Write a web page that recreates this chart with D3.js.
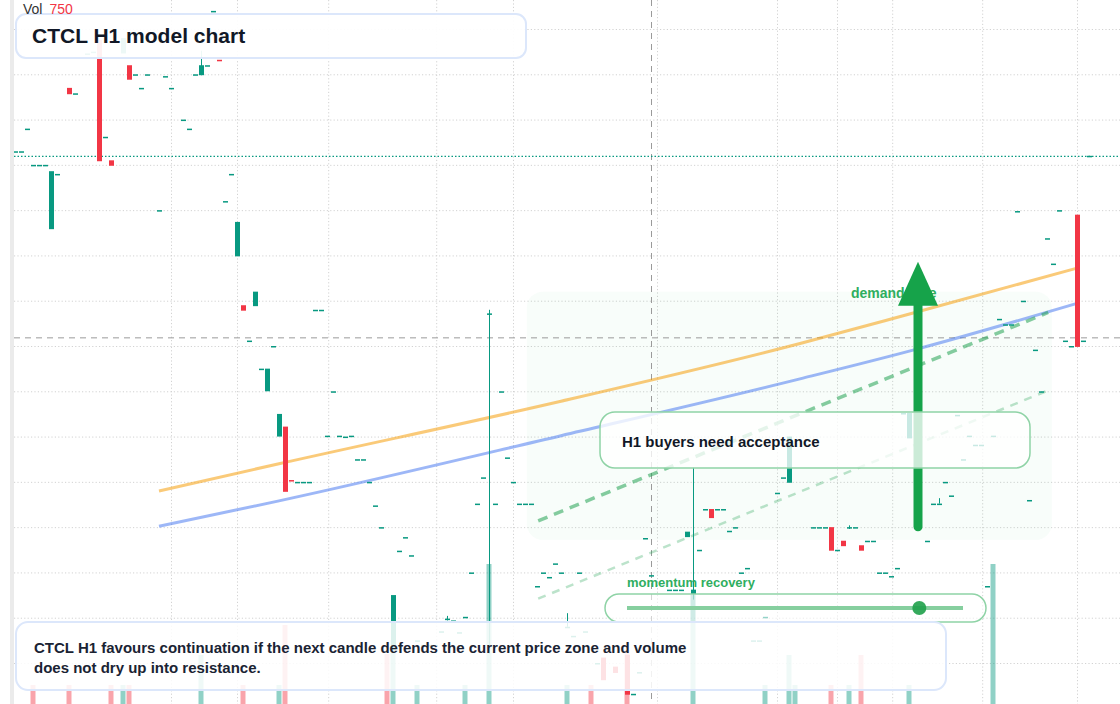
<!DOCTYPE html>
<html>
<head>
<meta charset="utf-8">
<style>
  html, body { margin: 0; padding: 0; background: #fff; }
  svg { display: block; font-family: "Liberation Sans", Arial, sans-serif; }
</style>
<script src="https://cdn.jsdelivr.net/npm/d3@7"></script>
</head>
<body>
<svg id="chart"></svg>
<script>
// bars: [index, open, high, low, close] or [index, price] for flat bars
const candles = [
  [0, 23.15], [1, 23.15], [2, 23.40], [3, 23.00], [4, 23.00], [5, 23.00],
  [6, 22.29, 22.93, 22.29, 22.93], [7, 22.90],
  [9, 23.85, 23.85, 23.78, 23.78], [10, 23.79], [12, 24.23], [13, 24.25],
  [14, 24.38, 24.38, 23.04, 23.04], [15, 23.31],
  [16, 23.05, 23.05, 22.99, 22.99],
  [18, 24.23, 24.40, 24.23, 24.40],
  [19, 24.10, 24.10, 23.94, 23.94],
  [20, 24.00], [21, 23.85], [22, 24.00], [24, 22.50], [25, 23.98], [26, 23.85],
  [28, 23.50], [29, 23.40], [30, 24.00],
  [31, 23.99, 24.26, 23.99, 24.10], [32, 24.10], [33, 24.70],
  [34, 24.16, 24.16, 24.15, 24.15], [35, 22.60], [36, 22.90],
  [37, 21.99, 22.37, 21.99, 22.37],
  [38, 21.45, 21.45, 21.39, 21.39], [39, 21.06],
  [40, 21.44, 21.60, 21.44, 21.60], [41, 20.75],
  [42, 20.50, 20.75, 20.50, 20.75], [43, 21.00],
  [44, 20.00, 20.25, 20.00, 20.25],
  [45, 20.11, 20.11, 19.39, 19.39],
  [46, 19.52, 19.52, 19.51, 19.51],
  [47, 19.50], [48, 19.50], [49, 19.50], [50, 21.40], [51, 21.40], [52, 20.01],
  [53, 20.50], [54, 20.01], [55, 20.00], [56, 20.01], [57, 19.75], [58, 19.75],
  [59, 19.50], [60, 19.24], [61, 19.00],
  [63, 17.64, 18.25, 17.64, 18.25],
  [64, 18.74], [65, 18.89], [66, 18.69], [67, 17.75], [68, 17.70], [69, 17.70],
  [70, 17.70], [71, 17.85],
  [72, 17.99, 18.02, 17.97, 17.99], [73, 17.97], [74, 17.84], [75, 18.01],
  [76, 18.50], [77, 19.26], [78, 19.55],
  [79, 21.36, 21.40, 17.60, 21.36],
  [80, 19.26], [81, 20.50], [82, 19.77], [83, 19.50], [84, 19.26], [85, 19.26],
  [86, 19.26], [87, 18.35], [88, 18.50], [89, 18.45], [90, 18.60], [91, 18.50],
  [92, 17.90, 18.05, 17.90, 17.90], [93, 17.80], [94, 18.50], [95, 17.85], [97, 17.50],
  [98, 17.56, 17.56, 17.31, 17.31],
  [100, 17.46, 17.46, 17.39, 17.39],
  [102, 17.59, 17.59, 17.15, 17.15], [103, 17.16], [104, 17.40],
  [105, 18.88], [106, 18.47], [109, 18.31], [110, 18.31], [111, 18.31],
  [112, 18.89, 18.95, 18.89, 18.95],
  [113, 18.26, 19.66, 18.20, 18.31],
  [114, 18.75], [115, 19.20],
  [116, 19.20, 19.20, 19.10, 19.10],
  [117, 19.20], [118, 19.20], [119, 18.96], [120, 19.00], [121, 18.50], [122, 18.55],
  [123, 17.75], [124, 17.75], [125, 18.01], [127, 19.38], [128, 19.55],
  [129, 19.49, 20.00, 19.49, 20.00],
  [133, 19.00], [134, 19.00], [135, 19.00],
  [136, 19.00, 19.00, 18.74, 18.74], [137, 18.75],
  [138, 18.85, 18.85, 18.79, 18.79],
  [139, 19.00, 19.02, 18.98, 19.00], [140, 19.00],
  [141, 18.80, 18.80, 18.74, 18.74],
  [142, 18.85], [143, 18.85], [144, 18.50], [145, 18.50], [146, 18.46], [147, 18.55],
  [148, 20.26], [149, 19.98, 20.26, 19.98, 20.26],
  [152, 18.85], [153, 19.26], [154, 19.26, 19.32, 19.26, 19.26],
  [155, 19.50], [156, 19.35], [157, 20.24], [158, 19.75], [159, 20.01], [160, 19.91],
  [161, 19.91], [162, 18.35], [163, 20.01], [164, 21.30], [165, 21.24], [166, 21.24],
  [167, 22.49], [168, 21.50], [169, 19.30], [170, 20.96], [171, 20.50], [172, 22.19],
  [173, 21.91], [174, 22.50], [175, 21.06], [176, 21.00],
  [177, 22.45, 22.45, 20.99, 20.99],
  [178, 21.06], [179, 23.10],
];

const volIdx = [3, 9, 16, 18, 19, 31, 38, 44, 45, 62, 63, 67, 75, 79, 92, 96, 102, 113, 125, 129, 130, 136, 139, 141, 149, 163];
const volume = [135, 135, 135, 135, 135, 285, 135, 135, 435, 290, 360, 135, 135, 740, 135, 135, 310, 585, 135, 285, 135, 135, 135, 285, 135, 740];
const volUp = [0, 0, 0, 1, 0, 1, 0, 1, 0, 0, 1, 1, 1, 1, 1, 0, 0, 1, 1, 1, 1, 0, 1, 0, 1, 1];

const fastIdx = [24, 44, 91, 131, 150, 177];
const fastLine = [19.40, 19.70, 20.39, 21.03, 21.37, 21.86];
const slowIdx = [24, 44, 91, 131, 150, 177];
const slowLine = [19.01, 19.29, 20.01, 20.64, 20.96, 21.47];

const channelIdx = [87.2, 172.2];
const channelUpper = [19.07, 21.37];
const channelLower = [18.21, 20.51];

const zoneIdx = [85.3, 172.8];
const zonePrice = [18.86, 21.60];

const priceTicks = [17.5, 18, 18.5, 19, 19.5, 20, 20.5, 21, 21.5, 22, 22.5, 23, 23.5, 24, 24.5];
const timeTicks = [26, 37, 52.2, 70.2, 83, 107, 127, 137, 146.2, 161.2, 177];

const crossIdx = 106;
const crossPrice = 21.09;
const arrowIdx = 150.5;
const arrowFrom = 18.96;
const arrowTo = 21.93;
const momentum = 0.87;
const volLabel = 750;

const W = 1120, H = 704;
const UP = "#089981", DOWN = "#f23645";

const x = d3.scaleLinear().domain([0, 179]).range([15, 1089]);
const y = d3.scaleLinear().domain([17.5, 24.5]).range([663, 29]);
const yVol = d3.scaleLinear().domain([0, 750]).range([712, 562]);

const svg = d3.select("#chart").attr("width", W).attr("height", H).attr("viewBox", [0, 0, W, H]);

svg.append("defs").append("clipPath").attr("id", "plot")
  .append("rect").attr("x", 14).attr("y", 0).attr("width", W - 14).attr("height", H);

svg.append("rect").attr("x", 10).attr("y", 0).attr("width", 4).attr("height", H).attr("fill", "#ebebeb");

const plot = svg.append("g").attr("clip-path", "url(#plot)");

// grid
plot.append("g")
  .attr("transform", "translate(14,0)")
  .call(d3.axisRight(y).tickValues(priceTicks).tickSize(W - 14).tickFormat(""))
  .call((g) => g.select(".domain").remove())
  .call((g) => g.selectAll(".tick line").attr("stroke", "#d2d2d2").attr("stroke-dasharray", "1.2,2.2"));

plot.append("g")
  .call(d3.axisBottom(x).tickValues(timeTicks).tickSize(H).tickFormat(""))
  .call((g) => g.select(".domain").remove())
  .call((g) => g.selectAll(".tick line").attr("stroke", "#d2d2d2").attr("stroke-dasharray", "1.2,2.2"));

// demand zone
plot.append("rect")
  .attr("x", x(zoneIdx[0])).attr("y", y(zonePrice[1]))
  .attr("width", x(zoneIdx[1]) - x(zoneIdx[0]))
  .attr("height", y(zonePrice[0]) - y(zonePrice[1]))
  .attr("rx", 16)
  .attr("fill", "#22c55e").attr("fill-opacity", 0.032);

// volume
plot.append("g").selectAll("rect")
  .data(volIdx)
  .join("rect")
  .attr("x", (d) => x(d) - 2.5)
  .attr("width", 5)
  .attr("y", (d, i) => yVol(volume[i]))
  .attr("height", (d, i) => yVol(0) - yVol(volume[i]))
  .attr("fill", (d, i) => (volUp[i] ? UP : DOWN))
  .attr("fill-opacity", 0.45);

// crosshair
plot.append("line")
  .attr("x1", 14).attr("x2", W).attr("y1", y(crossPrice)).attr("y2", y(crossPrice))
  .attr("stroke", "#9a9a9a").attr("stroke-dasharray", "6,5");
plot.append("line")
  .attr("x1", x(crossIdx) + 0.5).attr("x2", x(crossIdx) + 0.5).attr("y1", 0).attr("y2", H)
  .attr("stroke", "#9a9a9a").attr("stroke-dasharray", "6,5");

// last price line
const last = candles[candles.length - 1];
plot.append("line")
  .attr("x1", 14).attr("x2", W)
  .attr("y1", y(last[last.length - 1]) + 0.5).attr("y2", y(last[last.length - 1]) + 0.5)
  .attr("stroke", UP).attr("stroke-width", 1.2).attr("stroke-dasharray", "1.5,2");

// averages
const avg = d3.line().x((d) => x(d[0])).y((d) => y(d[1])).curve(d3.curveMonotoneX);
plot.append("path")
  .attr("d", avg(d3.zip(fastIdx, fastLine)))
  .attr("fill", "none").attr("stroke", "#f59e0b").attr("stroke-opacity", 0.55).attr("stroke-width", 3);
plot.append("path")
  .attr("d", avg(d3.zip(slowIdx, slowLine)))
  .attr("fill", "none").attr("stroke", "#3b6ff0").attr("stroke-opacity", 0.5).attr("stroke-width", 3);

// channel
const straight = d3.line().x((d) => x(d[0])).y((d) => y(d[1]));
plot.append("path")
  .attr("d", straight(d3.zip(channelIdx, channelUpper)))
  .attr("fill", "none").attr("stroke", "#22a352").attr("stroke-opacity", 0.55)
  .attr("stroke-width", 3.5).attr("stroke-dasharray", "10,7");
plot.append("path")
  .attr("d", straight(d3.zip(channelIdx, channelLower)))
  .attr("fill", "none").attr("stroke", "#22a352").attr("stroke-opacity", 0.3)
  .attr("stroke-width", 2.5).attr("stroke-dasharray", "8,7");

// candles
const bars = candles.map((c) =>
  c.length === 2
    ? { i: c[0], o: c[1], h: c[1], l: c[1], c: c[1] }
    : { i: c[0], o: c[1], h: c[2], l: c[3], c: c[4] }
);
const candleG = plot.append("g");
candleG.selectAll("line")
  .data(bars.filter((d) => d.h > Math.max(d.o, d.c) || d.l < Math.min(d.o, d.c)))
  .join("line")
  .attr("x1", (d) => Math.round(x(d.i)) + 0.5)
  .attr("x2", (d) => Math.round(x(d.i)) + 0.5)
  .attr("y1", (d) => y(d.h))
  .attr("y2", (d) => y(d.l))
  .attr("stroke", (d) => (d.c >= d.o ? UP : DOWN));
candleG.selectAll("rect")
  .data(bars)
  .join("rect")
  .attr("x", (d) => Math.round(x(d.i)) - 2)
  .attr("width", 5)
  .attr("y", (d) => y(Math.max(d.o, d.c)))
  .attr("height", (d) => Math.max(1.5, Math.abs(y(d.o) - y(d.c))))
  .attr("fill", (d) => (d.c >= d.o ? UP : DOWN));

// demand side label + arrow
svg.append("text")
  .attr("x", 851).attr("y", 298)
  .attr("font-size", 14).attr("font-weight", 700).attr("fill", "#2fae5f")
  .text("demand side");

const ax = x(arrowIdx);
svg.append("line")
  .attr("x1", ax).attr("x2", ax).attr("y1", y(arrowFrom) - 4).attr("y2", y(arrowTo) + 40)
  .attr("stroke", "#16a34a").attr("stroke-width", 9).attr("stroke-linecap", "round");
svg.append("path")
  .attr("d", `M${ax},${y(arrowTo)} L${ax + 20},${y(arrowTo) + 44} L${ax - 20},${y(arrowTo) + 44} Z`)
  .attr("fill", "#16a34a");

// note box
svg.append("rect")
  .attr("x", 600).attr("y", 412).attr("width", 430).attr("height", 56).attr("rx", 15)
  .attr("fill", "#fff").attr("fill-opacity", 0.78)
  .attr("stroke", "#8fd3a6").attr("stroke-width", 1.5);
svg.append("text")
  .attr("x", 622).attr("y", 447)
  .attr("font-size", 15).attr("font-weight", 700).attr("fill", "#111827")
  .text("H1 buyers need acceptance");

// momentum slider
svg.append("text")
  .attr("x", 627).attr("y", 587)
  .attr("font-size", 13).attr("font-weight", 700).attr("fill", "#2fae5f")
  .text("momentum recovery");
svg.append("rect")
  .attr("x", 605).attr("y", 594).attr("width", 381).attr("height", 28).attr("rx", 14)
  .attr("fill", "#fff").attr("fill-opacity", 0.57)
  .attr("stroke", "#8fd3a6").attr("stroke-width", 1.5);
const track = d3.scaleLinear().domain([0, 1]).range([627, 963]);
svg.append("line")
  .attr("x1", track(0)).attr("x2", track(1)).attr("y1", 608).attr("y2", 608)
  .attr("stroke", "#86cf9f").attr("stroke-width", 4);
svg.append("circle")
  .attr("cx", track(momentum)).attr("cy", 608).attr("r", 7)
  .attr("fill", "#1fa04a").attr("fill-opacity", 0.9);

// title box
svg.append("rect")
  .attr("x", 16).attr("y", 14).attr("width", 510).attr("height", 44).attr("rx", 10)
  .attr("fill", "#fff").attr("fill-opacity", 0.93)
  .attr("stroke", "#dce7fb").attr("stroke-width", 2);
svg.append("text")
  .attr("x", 32).attr("y", 43)
  .attr("font-size", 21).attr("font-weight", 700).attr("fill", "#111827")
  .text("CTCL H1 model chart");

// summary box
svg.append("rect")
  .attr("x", 16).attr("y", 622).attr("width", 930).attr("height", 68).attr("rx", 12)
  .attr("fill", "#fff").attr("fill-opacity", 0.86)
  .attr("stroke", "#dce7fb").attr("stroke-width", 2);
const summary = svg.append("text")
  .attr("font-size", 15).attr("font-weight", 700).attr("fill", "#1a2333");
summary.append("tspan").attr("x", 34).attr("y", 653)
  .text("CTCL H1 favours continuation if the next candle defends the current price zone and volume");
summary.append("tspan").attr("x", 34).attr("y", 673)
  .text("does not dry up into resistance.");

// volume legend
const volText = svg.append("text").attr("x", 23).attr("y", 14).attr("font-size", 14);
volText.append("tspan").attr("fill", "#333").text("Vol");
volText.append("tspan").attr("dx", 7).attr("fill", DOWN).text(volLabel);
</script>
</body>
</html>
